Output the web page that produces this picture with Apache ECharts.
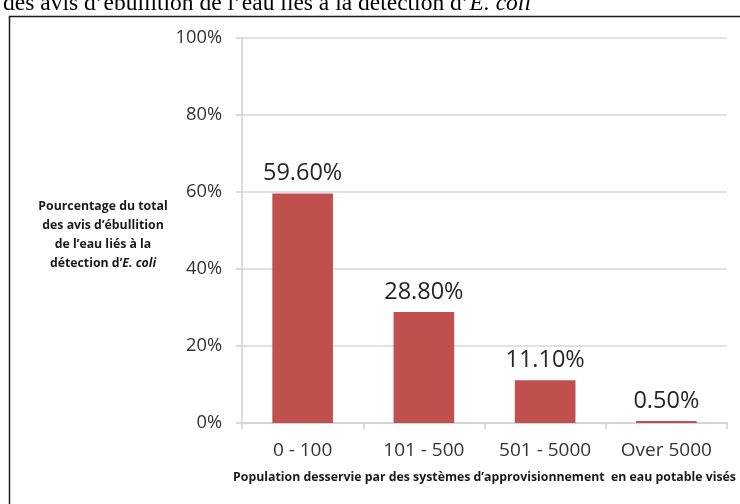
<!DOCTYPE html>
<html>
<head>
<meta charset="utf-8">
<script src="https://cdn.jsdelivr.net/npm/echarts@6/dist/echarts.min.js"></script>
<style>
html,body{margin:0;padding:0;background:#fff;}
#c{width:740px;height:504px;}
</style>
</head>
<body>
<div id="c"></div>
<script>
const categories = ['0 - 100', '101 - 500', '501 - 5000', 'Over 5000'];
const values = [59.6, 28.8, 11.1, 0.5];
const valueLabels = ['59.60%', '28.80%', '11.10%', '0.50%'];
const yTicks = [0, 20, 40, 60, 80, 100];
const yAxisName = 'Pourcentage du total\ndes avis d\u2019ébullition\nde l\u2019eau liés à la\ndétection d\u2019{i|E. coli}';
const xAxisName = 'Population desservie par des systèmes d\u2019approvisionnement  en eau potable visés';

const chart = echarts.init(document.getElementById('c'), null, {renderer: 'canvas'});
chart.setOption({
  animation: false,
  backgroundColor: '#fff',
  grid: {left: 242, right: 13, top: 38, bottom: 81, containLabel: false},
  graphic: [
    {type: 'rect', left: 7, top: 14, shape: {width: 800, height: 600},
     style: {fill: 'none', stroke: '#1a1a1a', lineWidth: 1.5}, silent: true, z: 0},
    {type: 'text', left: 3, top: -8,
     style: {text: 'des avis d\u2019ébullition de l\u2019eau liés à la détection d\u2019{i|E. coli}',
       font: '23.5px "Liberation Serif", serif', fill: '#000',
       rich: {i: {fontStyle: 'italic', fontFamily: '"Liberation Serif", serif', fontSize: 23.5, fill: '#000'}}}},
    {type: 'text', x: 103, y: 197,
     style: {text: yAxisName, font: 'bold 12.3px "Open Sans", sans-serif', fill: '#1a1a1a',
       align: 'center', verticalAlign: 'top', lineHeight: 19,
       rich: {i: {fontStyle: 'italic', fontWeight: 'bold', fontFamily: '"Open Sans", sans-serif', fontSize: 12.3, lineHeight: 19, fill: '#1a1a1a'}}}}
  ],
  xAxis: {
    type: 'category',
    data: categories,
    name: xAxisName,
    nameLocation: 'middle',
    nameGap: 48,
    nameTextStyle: {fontFamily: '"Open Sans", sans-serif', fontWeight: 'bold', fontSize: 12.3, color: '#1a1a1a'},
    axisLine: {lineStyle: {color: '#d0d0d0', width: 1.5}},
    axisTick: {show: true, length: 6, lineStyle: {color: '#d0d0d0', width: 1.5}},
    axisLabel: {fontFamily: '"Open Sans", sans-serif', fontSize: 19, color: '#333', margin: 18}
  },
  yAxis: {
    type: 'value',
    min: 0, max: 100, interval: 20,
    axisLine: {show: true, lineStyle: {color: '#d0d0d0', width: 1.5}},
    axisTick: {show: true, length: 6, lineStyle: {color: '#d0d0d0', width: 1.5}},
    splitLine: {lineStyle: {color: '#d9d9d9', width: 1.5}},
    axisLabel: {fontFamily: '"Open Sans", sans-serif', fontSize: 18.3, color: '#333', margin: 20,
      formatter: v => yTicks.includes(v) ? v + '%' : ''}
  },
  series: [{
    type: 'bar',
    data: values,
    barWidth: '50%',
    itemStyle: {color: '#c0504d'},
    label: {show: true, position: 'top', distance: 8,
      fontFamily: '"Open Sans", sans-serif', fontSize: 23.5, color: '#262626',
      formatter: p => valueLabels[p.dataIndex]}
  }]
});
</script>
</body>
</html>
